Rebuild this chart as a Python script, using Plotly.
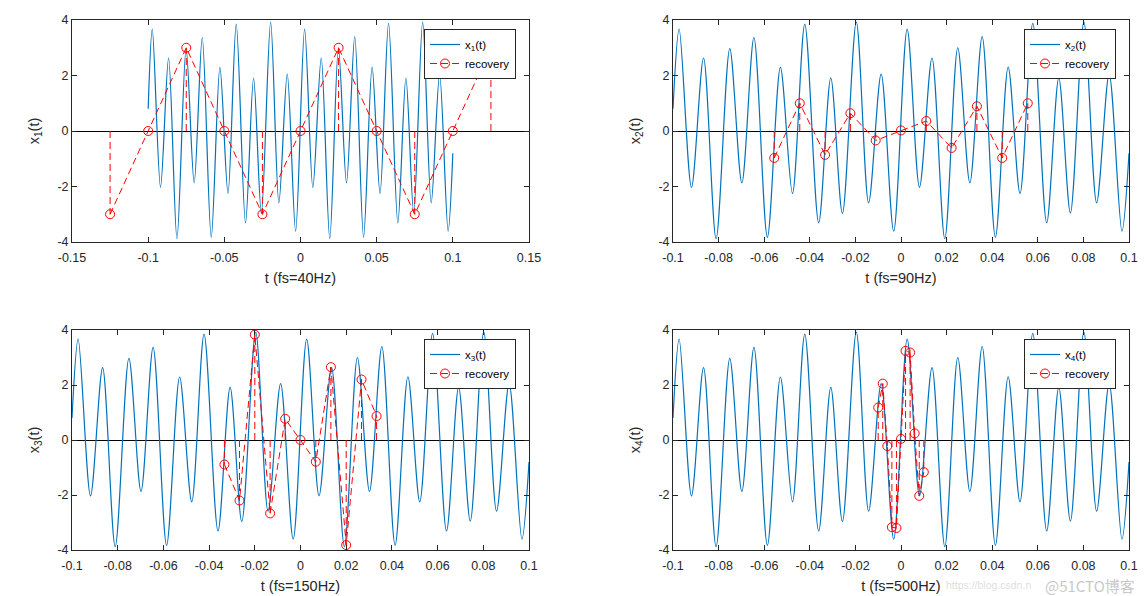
import plotly.graph_objects as go

# ---- continuous signal (extrema) ----
t_sig = [-0.1, -0.0973, -0.0919, -0.0866, -0.0811, -0.0751, -0.0698, -0.0645, -0.0586,
         -0.0529, -0.0476, -0.0422, -0.0361, -0.0308, -0.0257, -0.0196, -0.0142, -0.0087,
         -0.0032, 0.0027, 0.0081, 0.0136, 0.0192, 0.0249, 0.0302, 0.0356, 0.0414, 0.0470,
         0.0522, 0.0578, 0.0639, 0.0692, 0.0743, 0.0802, 0.0858, 0.0913, 0.0969, 0.1]
x_sig = [0.8, 3.67, -2.03, 2.63, -3.88, 2.97, -1.87, 3.37, -3.83, 2.29, -2.25, 3.85,
         -3.31, 1.91, -2.97, 3.92, -2.59, 2.05, -3.61, 3.67, -2.03, 2.63, -3.88, 3.0,
         -1.87, 3.4, -3.83, 2.3, -2.25, 3.88, -3.31, 1.91, -2.95, 3.92, -2.59, 2.05,
         -3.61, -0.8]

# ---- sampled / recovered values ----
t_40 = [-0.125, -0.1, -0.075, -0.05, -0.025, 0, 0.025, 0.05, 0.075, 0.1, 0.125]
r_40 = [-3, 0, 3, 0, -3, 0, 3, 0, -3, 0, 3]
t_90 = [-0.0556, -0.0444, -0.0333, -0.0222, -0.0111, 0, 0.0111, 0.0222, 0.0333, 0.0444, 0.0556]
r_90 = [-0.97, 1.0, -0.86, 0.64, -0.34, 0.02, 0.36, -0.61, 0.89, -0.97, 1.0]
t_150 = [-0.0333, -0.0267, -0.02, -0.0133, -0.0067, 0, 0.0067, 0.0133, 0.02, 0.0267, 0.0333]
r_150 = [-0.89, -2.2, 3.83, -2.67, 0.77, 0.0, -0.79, 2.65, -3.82, 2.2, 0.87]
t_500 = [-0.01, -0.008, -0.006, -0.004, -0.002, 0, 0.002, 0.004, 0.006, 0.008, 0.01]
r_500 = [1.18, 2.05, -0.22, -3.17, -3.2, 0.04, 3.24, 3.18, 0.24, -2.03, -1.17]

x_titles = ["t (fs=40Hz)", "t (fs=90Hz)", "t (fs=150Hz)", "t (fs=500Hz)"]
y_titles = ["x<sub>1</sub>(t)", "x<sub>2</sub>(t)", "x<sub>3</sub>(t)", "x<sub>4</sub>(t)"]
legend_names = ["x<sub>1</sub>(t)", "x<sub>2</sub>(t)", "x<sub>3</sub>(t)", "x<sub>4</sub>(t)"]

xt_wide = [-0.15, -0.1, -0.05, 0, 0.05, 0.1, 0.15]
xt_wide_text = ["-0.15", "-0.1", "-0.05", "0", "0.05", "0.1", "0.15"]
xt_narrow = [-0.1, -0.08, -0.06, -0.04, -0.02, 0, 0.02, 0.04, 0.06, 0.08, 0.1]
xt_narrow_text = ["-0.1", "-0.08", "-0.06", "-0.04", "-0.02", "0", "0.02", "0.04", "0.06", "0.08", "0.1"]
yt = [-4, -2, 0, 2, 4]
yt_text = ["-4", "-2", "0", "2", "4"]

OFF = 8                      # page body margin of the html page
W, H = 1148 - OFF, 596 - OFF
BLUE = "#0072BD"
RED = "#FF0000"
TXT = "#262626"
FONT = "Liberation Sans, Arial, sans-serif"


def px(x):
    return (x - OFF) / W


def py(y):
    return 1 - (y - OFF) / H


# target pixel boxes of the four axes: (left, right, top, bottom)
boxes = [(72, 529, 20, 242), (673, 1129, 20, 242), (72, 529, 330, 550), (673, 1129, 330, 550)]
samples = [(t_40, r_40), (t_90, r_90), (t_150, r_150), (t_500, r_500)]

fig = go.Figure()
layout = dict(template="none", width=W, height=H, margin=dict(l=0, r=0, t=0, b=0, autoexpand=False),
              paper_bgcolor="white", plot_bgcolor="white",
              font=dict(family=FONT, color=TXT), showlegend=True)

for i in range(4):
    k = "" if i == 0 else str(i + 1)
    xa, ya = "x" + k, "y" + k
    lg = "legend" + k
    ts, rs = samples[i]

    fig.add_trace(go.Scatter(x=t_sig, y=x_sig, mode="lines",
                             line=dict(color=BLUE, width=1.2, shape="spline", smoothing=0.9),
                             name=legend_names[i], xaxis=xa, yaxis=ya, legend=lg))
    vx, vy = [], []
    for t, r in zip(ts, rs):
        vx += [t, t, None]
        vy += [0, r, None]
    fig.add_trace(go.Scatter(x=vx, y=vy, mode="lines", line=dict(color=RED, width=1, dash="7px,4px"),
                             showlegend=False, hoverinfo="skip", xaxis=xa, yaxis=ya))
    fig.add_trace(go.Scatter(x=ts, y=rs, mode="lines+markers", line=dict(color=RED, width=1, dash="7px,4px"),
                             marker=dict(symbol="circle-open", size=9, color=RED, line=dict(width=1, color=RED)),
                             name="recovery", xaxis=xa, yaxis=ya, legend=lg))

    l, r, t, b = boxes[i]
    common = dict(showline=True, linecolor=TXT, linewidth=1, mirror="ticks", ticks="inside",
                  ticklen=5, tickcolor=TXT, showgrid=False, automargin=False,
                  tickfont=dict(family=FONT, size=12.5, color=TXT))
    if i == 0:
        xr, tv, tt = [-0.15, 0.15], xt_wide, xt_wide_text
    else:
        xr, tv, tt = [-0.1, 0.1], xt_narrow, xt_narrow_text
    layout["xaxis" + k] = dict(common, domain=[px(l), px(r)], range=xr, tickvals=tv, ticktext=tt,
                               zeroline=False, anchor=ya, ticklabelstandoff=4,
                               title=dict(text=x_titles[i], font=dict(family=FONT, size=14.5, color=TXT), standoff=8))
    layout["yaxis" + k] = dict(common, domain=[py(b), py(t)], range=[-4, 4], tickvals=yt, ticktext=yt_text,
                               zeroline=True, zerolinecolor="black", zerolinewidth=1, anchor=xa,
                               title=dict(text=y_titles[i], font=dict(family=FONT, size=14.5, color=TXT), standoff=14))
    layout[lg] = dict(x=px(r - 13), y=py(t + 9), xanchor="right", yanchor="top",
                      bgcolor="white", bordercolor=TXT, borderwidth=1,
                      font=dict(family=FONT, size=11.5, color="black"), itemwidth=30,
                      tracegroupgap=0)

layout["annotations"] = [
    dict(text="https://blog.csdn.n", x=px(944), y=py(585), xref="paper", yref="paper",
         xanchor="left", yanchor="middle", showarrow=False,
         font=dict(family=FONT, size=10.5, color="rgba(200,200,200,0.6)")),
    dict(text="@51CTO博客", x=px(1137), y=py(585), xref="paper", yref="paper",
         xanchor="right", yanchor="middle", showarrow=False,
         font=dict(family="Noto Sans CJK SC", size=15, color="rgba(190,190,190,0.85)")),
]

fig.update_layout(**layout)
fig.write_html("out.html")
